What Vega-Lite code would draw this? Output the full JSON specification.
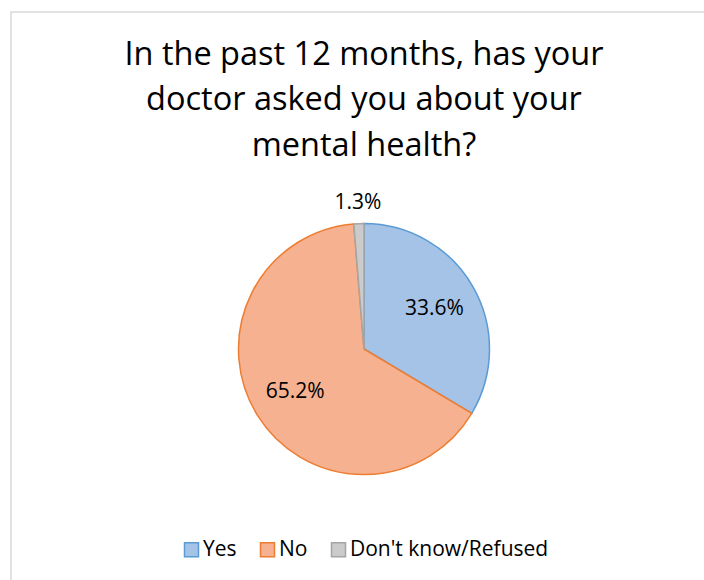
{
  "$schema": "https://vega.github.io/schema/vega-lite/v6.json",
  "autosize": {"type": "none"},
  "padding": {"left": 11, "top": 12, "right": -13, "bottom": -106},
  "width": 706,
  "height": 674,
  "background": "#ffffff",
  "view": {"stroke": "#d9d9d9", "strokeWidth": 1.5},
  "config": {
    "font": "Open Sans"
  },
  "title": {
    "text": ["In the past 12 months, has your", "doctor asked you about your", "mental health?"],
    "font": "Open Sans",
    "fontSize": 32.5,
    "fontWeight": "normal",
    "color": "#000000",
    "lineHeight": 45.5,
    "anchor": "middle",
    "frame": "group",
    "offset": -176,
    "baseline": "alphabetic"
  },
  "data": {
    "values": [
      {"category": "Yes", "value": 0.336, "order": 1},
      {"category": "No", "value": 0.652, "order": 2},
      {"category": "Don't know/Refused", "value": 0.013, "order": 3}
    ]
  },
  "encoding": {
    "theta": {"field": "value", "type": "quantitative", "stack": true},
    "order": {"field": "order", "type": "quantitative"}
  },
  "layer": [
    {
      "mark": {"type": "arc", "outerRadius": 125.5, "strokeWidth": 1.5},
      "encoding": {
        "fill": {
          "field": "category",
          "type": "nominal",
          "scale": {"domain": ["Yes", "No", "Don't know/Refused"], "range": ["#a5c3e7", "#f6b190", "#cbcbcb"]},
          "legend": {
            "orient": "none",
            "legendX": 170,
            "legendY": 527,
            "direction": "horizontal",
            "title": null,
            "symbolType": "square",
            "symbolSize": 196,
            "symbolStrokeWidth": 1.5,
            "symbolOpacity": 1,
            "labelFont": "Open Sans",
            "labelFontSize": 21,
            "labelColor": "#000000",
            "labelOffset": 1,
            "labelLimit": 400,
            "columnPadding": 20,
            "padding": 0
          }
        },
        "stroke": {
          "field": "category",
          "type": "nominal",
          "scale": {"domain": ["Yes", "No", "Don't know/Refused"], "range": ["#5b9bd5", "#ed7d31", "#a5a5a5"]},
          "legend": {
            "orient": "none",
            "legendX": 170,
            "legendY": 527,
            "direction": "horizontal",
            "title": null,
            "symbolType": "square",
            "symbolSize": 196,
            "symbolStrokeWidth": 1.5,
            "symbolOpacity": 1,
            "labelFont": "Open Sans",
            "labelFontSize": 21,
            "labelColor": "#000000",
            "labelOffset": 1,
            "labelLimit": 400,
            "columnPadding": 20,
            "padding": 0
          }
        }
      }
    },
    {
      "mark": {
        "type": "text",
        "radius": {"expr": "datum.value < 0.05 ? 146 : 81"},
        "font": "Open Sans",
        "fontSize": 21,
        "color": "#000000",
        "align": "center",
        "baseline": "middle"
      },
      "encoding": {
        "text": {"field": "value", "type": "quantitative", "format": ".1%"}
      }
    }
  ]
}
